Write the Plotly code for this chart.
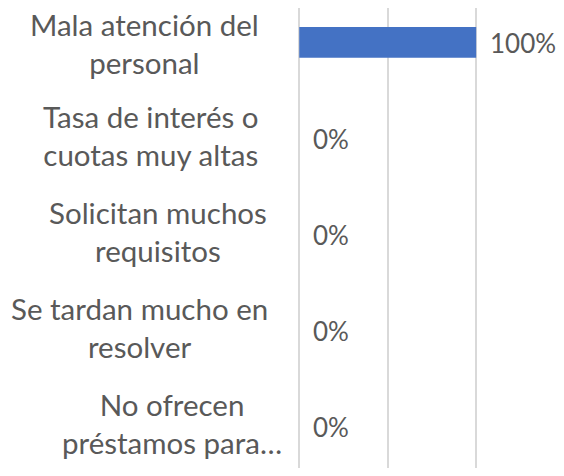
import plotly.graph_objects as go

categories = [
    "Mala atención del<br>personal",
    "Tasa de interés o<br>cuotas muy altas",
    "Solicitan muchos<br>requisitos",
    "Se tardan mucho en<br>resolver",
    "No ofrecen<br>préstamos para…",
]
values = [1.0, 0.0, 0.0, 0.0, 0.0]
value_labels = ["100%", "0%", "0%", "0%", "0%"]
x_ticks = [0, 0.5, 1.0, 1.5]

# layout-only: horizontal centre (px, page coords) and vertical nudge of each label block
label_center_px = [144, 151, 158, 139, 172]
label_yshift = [-1, 3, 3, 3, 3]

PAGE_OFFSET = 8          # default body margin of the page
PLOT_LEFT_PAGE = 298     # left edge of plot area in page px
PLOT_LEFT = PLOT_LEFT_PAGE - PAGE_OFFSET
FONT = "Lato, Carlito, Calibri, sans-serif"
GRAY = "#595959"

fig = go.Figure()
fig.add_trace(go.Bar(
    x=values, y=categories, orientation="h",
    marker=dict(color="#4472C4", line=dict(width=0)),
    width=0.32, hoverinfo="skip",
))

annotations = []
for cat, v, lab in zip(categories, values, value_labels):
    annotations.append(dict(
        x=v, y=cat, xref="x", yref="y", text=lab, showarrow=False,
        xanchor="left", yanchor="middle", xshift=12,
        font=dict(family=FONT, size=26, color=GRAY),
    ))
for cat, cx, dy in zip(categories, label_center_px, label_yshift):
    annotations.append(dict(
        x=0, y=cat, xref="paper", yref="y", text=cat, showarrow=False,
        xanchor="center", yanchor="middle", align="center",
        xshift=cx - PLOT_LEFT_PAGE, yshift=dy,
        font=dict(family=FONT, size=29.5, color=GRAY),
    ))

fig.update_layout(
    width=564 - 2 * PAGE_OFFSET, height=476 - 2 * PAGE_OFFSET,
    margin=dict(l=PLOT_LEFT, r=0, t=0, b=0),
    paper_bgcolor="white", plot_bgcolor="white",
    showlegend=False,
    annotations=annotations,
    xaxis=dict(
        range=[-0.007, 1.451], tickvals=x_ticks, showticklabels=False,
        showgrid=True, gridcolor="#d9d9d9", gridwidth=1.5,
        zeroline=False, showline=False, fixedrange=True,
    ),
    yaxis=dict(
        type="category", categoryarray=categories,
        range=[4.428, -0.359], showticklabels=False,
        showgrid=False, zeroline=False, showline=False, fixedrange=True,
    ),
)

fig.write_html("out.html")
